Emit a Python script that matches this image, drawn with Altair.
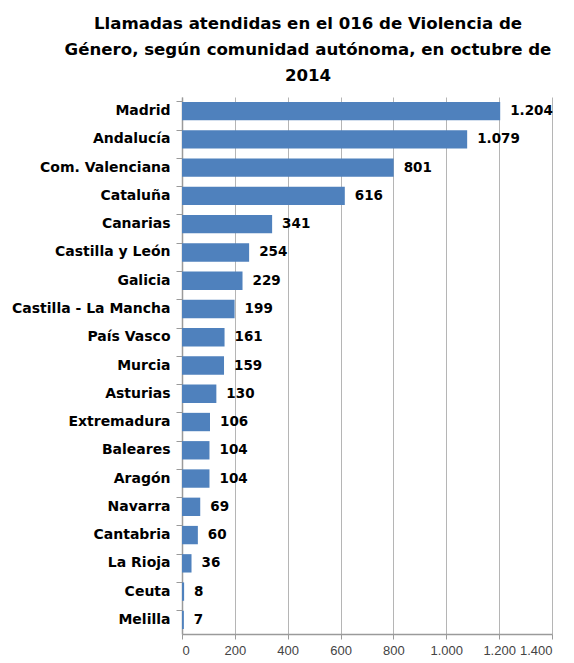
import altair as alt
import pandas as pd

regions = ["Madrid", "Andalucía", "Com. Valenciana", "Cataluña", "Canarias",
           "Castilla y León", "Galicia", "Castilla - La Mancha", "País Vasco",
           "Murcia", "Asturias", "Extremadura", "Baleares", "Aragón", "Navarra",
           "Cantabria", "La Rioja", "Ceuta", "Melilla"]
calls = [1204, 1079, 801, 616, 341, 254, 229, 199, 161, 159, 130, 106, 104,
         104, 69, 60, 36, 8, 7]
x_ticks = [0, 200, 400, 600, 800, 1000, 1200, 1400]

df = pd.DataFrame({
    "region": regions,
    "calls": calls,
    "label": [f"{v:,}".replace(",", ".") for v in calls],
})

FONT = "DejaVu Sans"

y_enc = alt.Y("region:N", sort=regions, title=None,
              scale=alt.Scale(paddingInner=0.35, paddingOuter=0.175),
              axis=alt.Axis(labelFont=FONT, labelFontSize=14, labelFontWeight="bold",
                            labelColor="#000000", domainColor="#9a9a9a", domainWidth=1.5,
                            tickColor="#9a9a9a", tickSize=6, bandPosition=0,
                            labelPadding=6, grid=False))
x_enc = alt.X("calls:Q", title=None,
              scale=alt.Scale(domain=[0, 1400], nice=False),
              axis=alt.Axis(values=x_ticks, labelFont="Liberation Sans", labelFontSize=13,
                            labelColor="#444444", grid=True, gridColor="#b5b5b5",
                            domainColor="#9a9a9a", domainWidth=1.5, tickColor="#9a9a9a",
                            tickSize=5, labelPadding=5, labelOverlap=False,
                            labelExpr="replace(format(datum.value, ','), ',', '.')"))

bars = alt.Chart(df).mark_bar(color="#4f81bd").encode(x=x_enc, y=y_enc)
labels = alt.Chart(df).mark_text(align="left", dx=10, font=FONT, fontSize=13.5,
                                 fontWeight="bold", color="#000000").encode(
    x=alt.X("calls:Q"), y=alt.Y("region:N", sort=regions), text="label:N")

chart = (bars + labels).properties(
    width=370, height=537,
    autosize=alt.AutoSizeParams(type="none"),
    padding={"left": 174, "top": 89, "right": 14, "bottom": 29},
    title=alt.TitleParams(
        text=["Llamadas atendidas en el 016 de Violencia de",
              "Género, según comunidad autónoma, en octubre de",
              "2014"],
        font=FONT, fontSize=16.6, fontWeight="bold", color="#000000",
        anchor="middle", frame="group", dx=-59, lineHeight=26, offset=12),
).configure_view(stroke=None)

chart.save("out.html", embed_options={"renderer": "svg", "actions": False})
